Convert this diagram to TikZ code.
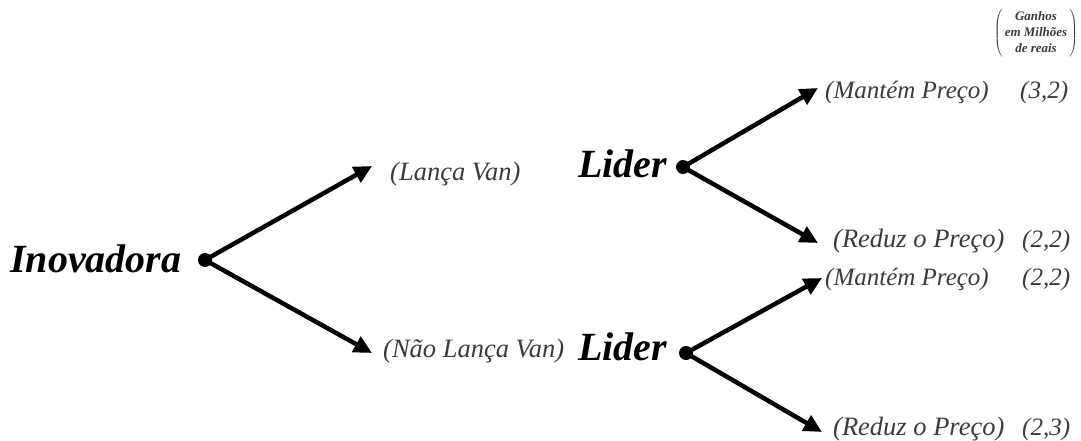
\documentclass[tikz,border=0pt]{standalone}
\usepackage{fontspec}
\setmainfont{Liberation Serif}
\usetikzlibrary{arrows.meta}
\definecolor{labelgray}{HTML}{3A3A3A}
\begin{document}
\begin{tikzpicture}[x=1pt,y=-1pt,
  player/.style={anchor=base west,inner sep=0pt,font=\fontsize{40}{40}\selectfont\bfseries\itshape,text=black},
  move/.style={anchor=base west,inner sep=0pt,font=\fontsize{26.5}{26}\selectfont\itshape,text=labelgray},
  keep/.style={move,font=\fontsize{25}{25}\selectfont\itshape},
  payoff/.style={anchor=base west,inner sep=0pt,font=\fontsize{25}{25}\selectfont\itshape,text=labelgray},
  decision/.style={circle,fill=black,inner sep=0pt,minimum size=14pt},
  branch/.style={line width=4.5pt,-{Triangle[length=18pt,width=17pt]},shorten <=-2pt}]
\useasboundingbox (0,0) rectangle (1081,441);

% players and decision points
\node[player] (ino) at (10,272) {Inovadora};
\node[decision] (d0) at (205,260) {};
\node[player] (lidA) at (578,177) {Lider};
\node[decision] (d1) at (683,167) {};
\node[player] (lidB) at (578,360) {Lider};
\node[decision] (d2) at (686,353) {};

% branch ends
\coordinate (e1) at (372,166);
\coordinate (e2) at (372,353);
\coordinate (e3) at (818,88);
\coordinate (e4) at (818,243);
\coordinate (e5) at (822,278);
\coordinate (e6) at (822,432);

\draw[branch] (d0.center) -- (e1);
\draw[branch] (d0.center) -- (e2);
\draw[branch] (d1.center) -- (e3);
\draw[branch] (d1.center) -- (e4);
\draw[branch] (d2.center) -- (e5);
\draw[branch] (d2.center) -- (e6);

% moves
\node[move] (m1) at (390,180) {(Lança Van)};
\node[move] (m2) at (383,357) {(Não Lança Van)};
\node[keep] (m3) at (825,99) {(Mantém Preço)};
\node[move] (m4) at (833,247) {(Reduz o Preço)};
\node[keep] (m5) at (825,285) {(Mantém Preço)};
\node[move] (m6) at (833,435) {(Reduz o Preço)};

% payoffs
\node[payoff] (p1) at (1020,99) {(3,2)};
\node[payoff] (p2) at (1022,247) {(2,2)};
\node[payoff] (p3) at (1022,285) {(2,2)};
\node[payoff] (p4) at (1022,435) {(2,3)};

% payoff legend
\node[inner sep=0pt,text=labelgray,font=\fontsize{13}{16}\selectfont\bfseries\itshape] (leg) at (1036,33)
  {$\left(\vcenter{\hbox{\begin{tabular}{@{\,}c@{\,}}Ganhos\\em Milhões\\de reais\end{tabular}}}\right)$};
\end{tikzpicture}
\end{document}
